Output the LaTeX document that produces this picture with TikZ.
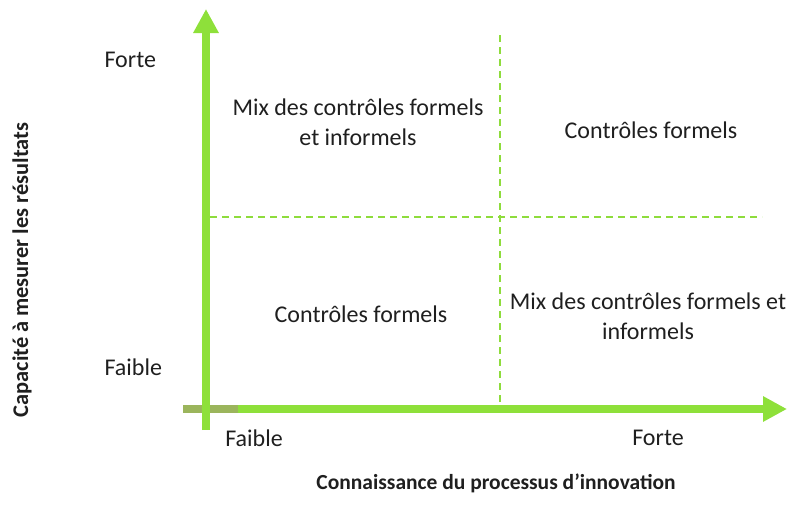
\documentclass[tikz,border=0pt]{standalone}
\usepackage{fontspec}
\setmainfont{Carlito}
\usetikzlibrary{arrows.meta}
\definecolor{axegreen}{HTML}{8EE03A}
\definecolor{axeolive}{HTML}{9BB55C}
\definecolor{dashgreen}{HTML}{8EDC3C}

\begin{document}
\begin{tikzpicture}[x=1pt,y=-1pt,
    axe/.style={line width=8pt,axegreen,-{Triangle[width=24pt,length=24pt]}},
    split/.style={dashgreen,line width=2pt,dash pattern=on 7pt off 5pt},
    lbl/.style={font=\fontsize{24}{30}\selectfont,text=black!88,align=center},
    titre/.style={font=\fontsize{21.5}{26}\selectfont\bfseries,text=black!88}]
            \useasboundingbox (0,0) rectangle (787,523);

            % axes
            \coordinate (origin) at (183,409);
            \coordinate (x start) at (238,409);
            \coordinate (x end) at (787,409);
            \coordinate (y start) at (206,430);
            \coordinate (y end) at (206,9);
            \draw[line width=8pt,axeolive] (origin) -- (x start);
            \draw[axe] (x start) -- (x end);
            \draw[axe] (y start) -- (y end);

            % quadrants
            \draw[split] (500,35) -- (500,405);
            \draw[split] (210,217) -- (762,217);

            % graduations
            \node[lbl,anchor=west] (y forte) at (101,60) {Forte};
            \node[lbl,anchor=west] (y faible) at (101,367) {Faible};
            \node[lbl] (x faible) at (254,438) {Faible};
            \node[lbl] (x forte) at (658,438) {Forte};

            % contenu
            \node[lbl] (mix haut) at (358,122) {Mix des contrôles formels\\et informels};
            \node[lbl] (formel haut) at (651,130) {Contrôles formels};
            \node[lbl] (formel bas) at (361,314) {Contrôles formels};
            \node[lbl] (mix bas) at (648,316) {Mix des contrôles formels et\\informels};

            % titres des axes
            \node[titre,font=\fontsize{22.4}{26}\selectfont\bfseries,rotate=90] (titre y) at (22,270) {Capacité à mesurer les résultats};
            \node[titre] (titre x) at (496,483) {Connaissance du processus d’innovation};
             \end{tikzpicture}
\end{document}
